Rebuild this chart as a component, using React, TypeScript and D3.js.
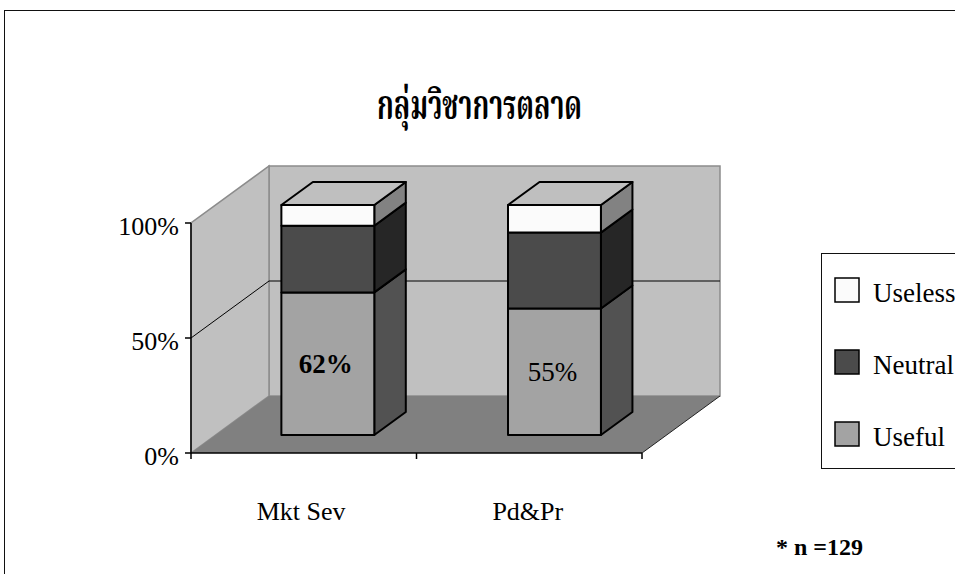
import React from "react";
import * as d3 from "d3";

const categories = ["Mkt Sev", "Pd&Pr"];
const seriesNames = ["Useful", "Neutral", "Useless"];
const useful = [0.62, 0.55];
const neutral = [0.29, 0.33];
const useless = [0.09, 0.12];
const yTicks = [0, 0.5, 1];
const barLabels = ["62%", "55%"];
const legendOrder = ["Useless", "Neutral", "Useful"];
const titleText = "กลุ่มวิชาการตลาด";
const noteText = "* n =129";

const W = 955;
const H = 574;
const SERIF = "'Times New Roman', 'Liberation Serif', 'DejaVu Serif', serif";
const THAI = "'Angsana New', 'Noto Serif Thai', 'Noto Sans Thai', 'Loma', 'Garuda', 'Norasi', 'Tahoma', sans-serif";

const colors: Record<string, { front: string; side: string; top: string }> = {
  Useful: { front: "#a3a3a3", side: "#525252", top: "#c8c8c8" },
  Neutral: { front: "#4b4b4b", side: "#262626", top: "#6a6a6a" },
  Useless: { front: "#fbfbfb", side: "#828282", top: "#bfbfbf" },
};
const labelWeights = ["bold", "normal"];

export default function App() {
  const x0 = 191, x1 = 642;
  const depthX = 78, depthY = -57;
  const d0 = 0.316, d1 = 0.72;

  const x = d3.scaleBand<string>().domain(categories).range([x0, x1]).paddingInner(0.59).paddingOuter(0.29);
  const y = d3.scaleLinear().domain([0, 1]).range([453, 223]);

  const P = (xf: number, v: number, d: number): [number, number] => [xf + d * depthX, y(v) + d * depthY];
  const poly = (pts: [number, number][]) => pts.map((p) => p.join(",")).join(" ");

  const table = categories.map((c, i) => ({ cat: c, Useful: useful[i], Neutral: neutral[i], Useless: useless[i] }));
  const stacked = d3.stack<any>().keys(seriesNames)(table);

  const back = [P(x0, 0, 1), P(x1, 0, 1), P(x1, 1, 1), P(x0, 1, 1)];
  const side = [P(x0, 0, 0), P(x0, 1, 0), P(x0, 1, 1), P(x0, 0, 1)];
  const floor = [P(x0, 0, 0), P(x1, 0, 0), P(x1, 0, 1), P(x0, 0, 1)];

  const bars: React.ReactNode[] = [];
  categories.forEach((c, i) => {
    const xl = x(c)!;
    const xr = xl + x.bandwidth();
    stacked.forEach((s, si) => {
      const v0 = s[i][0];
      const v1 = s[i][1];
      const col = colors[s.key];
      bars.push(
        <polygon key={`s-${i}-${si}`} points={poly([P(xr, v0, d0), P(xr, v0, d1), P(xr, v1, d1), P(xr, v1, d0)])}
          fill={col.side} stroke="#000" strokeWidth={2} strokeLinejoin="round" />
      );
      bars.push(
        <polygon key={`f-${i}-${si}`} points={poly([P(xl, v0, d0), P(xr, v0, d0), P(xr, v1, d0), P(xl, v1, d0)])}
          fill={col.front} stroke="#000" strokeWidth={2} strokeLinejoin="round" />
      );
      if (si === stacked.length - 1) {
        bars.push(
          <polygon key={`t-${i}-${si}`} points={poly([P(xl, v1, d0), P(xr, v1, d0), P(xr, v1, d1), P(xl, v1, d1)])}
            fill={col.top} stroke="#000" strokeWidth={2} strokeLinejoin="round" />
        );
      }
    });
    const us = stacked[0][i];
    const [lx, ly] = P((xl + xr) / 2, (us[0] + us[1]) / 2, d0);
    bars.push(
      <text key={`l-${i}`} x={lx - 2} y={ly} dy="0.36em" textAnchor="middle" fontFamily={SERIF}
        fontSize={27} fontWeight={labelWeights[i]} fill="#000">{barLabels[i]}</text>
    );
  });

  const gridPts = yTicks.filter((t) => t > 0 && t < 1);

  return (
    <svg width={W} height={H} style={{ position: "absolute", left: 0, top: 0, background: "#fff" }}>
      <rect x={4.5} y={10.5} width={1000} height={700} fill="#fff" stroke="#111" strokeWidth={1} />
      <g transform="translate(377,119) scale(1,1.18)">
        <text x={0} y={0} fontFamily={THAI} fontSize={35} fontWeight="bold" fill="#000"
          textLength={205} lengthAdjust="spacingAndGlyphs">{titleText}</text>
      </g>

      <polygon points={poly(back)} fill="#c0c0c0" stroke="#8c8c8c" strokeWidth={1.5} />
      <polygon points={poly(side)} fill="#c0c0c0" stroke="#8c8c8c" strokeWidth={1.5} />
      <polygon points={poly(floor)} fill="#808080" stroke="none" />
      <line x1={P(x1, 0, 0)[0]} y1={P(x1, 0, 0)[1]} x2={P(x1, 0, 1)[0]} y2={P(x1, 0, 1)[1]} stroke="#222" strokeWidth={1} />
      {gridPts.map((t) => (
        <polyline key={`g-${t}`} points={poly([P(x0, t, 0), P(x0, t, 1), P(x1, t, 1)])} fill="none" stroke="#000" strokeWidth={1} />
      ))}

      <line x1={x0} y1={y(0)} x2={x0} y2={y(1)} stroke="#000" strokeWidth={1.5} />
      {yTicks.map((t) => (
        <g key={`yt-${t}`}>
          <line x1={x0 - 6} x2={x0} y1={y(t)} y2={y(t)} stroke="#000" strokeWidth={1.5} />
          <text x={x0 - 12} y={y(t) + 12} textAnchor="end" fontFamily={SERIF} fontSize={26} fill="#000">{`${Math.round(t * 100)}%`}</text>
        </g>
      ))}
      <line x1={x0} y1={y(0)} x2={x1} y2={y(0)} stroke="#000" strokeWidth={1.5} />
      {[x0, (x0 + x1) / 2, x1].map((tx, k) => (
        <line key={`xt-${k}`} x1={tx} x2={tx} y1={y(0)} y2={y(0) + 6} stroke="#000" strokeWidth={1.5} />
      ))}
      {categories.map((c) => (
        <text key={`c-${c}`} x={x(c)! + x.bandwidth() / 2 - 2} y={520} textAnchor="middle" fontFamily={SERIF} fontSize={26} fill="#000">{c}</text>
      ))}

      {bars}

      <rect x={821.5} y={253.5} width={200} height={215} fill="#fff" stroke="#111" strokeWidth={1} />
      {legendOrder.map((k, i) => (
        <g key={`lg-${k}`}>
          <rect x={835} y={278 + i * 72} width={24} height={24} fill={colors[k].front} stroke="#000" strokeWidth={1.5} />
          <text x={873} y={302 + i * 72} fontFamily={SERIF} fontSize={27} fill="#000">{k}</text>
        </g>
      ))}

      <text x={776} y={555} fontFamily={SERIF} fontSize={24} fontWeight="bold" fill="#000">{noteText}</text>
    </svg>
  );
}
